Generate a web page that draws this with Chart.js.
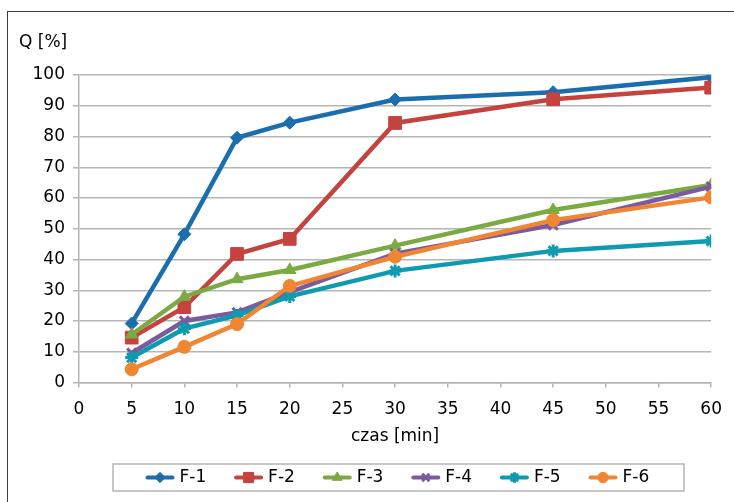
<!DOCTYPE html>
<html>
<head>
<meta charset="utf-8">
<script src="https://cdn.jsdelivr.net/npm/chart.js@4/dist/chart.umd.min.js"></script>
<style>
  html, body { margin: 0; padding: 0; background: #ffffff; }
  #wrap { width: 734px; height: 502px; position: relative; }
</style>
</head>
<body>
<div id="wrap"><canvas id="c" width="734" height="502"></canvas></div>
<script>
// Release time points [min]
const times = [5, 10, 15, 20, 30, 45, 60];

// Released amount Q [%] for each formulation
const seriesNames = ['F-1', 'F-2', 'F-3', 'F-4', 'F-5', 'F-6'];
const f1 = [19.2, 48.2, 79.6, 84.5, 92.0, 94.4, 99.3];
const f2 = [14.6, 24.5, 41.8, 46.7, 84.4, 92.1, 95.9];
const f3 = [15.6, 27.9, 33.6, 36.6, 44.5, 56.1, 64.2];
const f4 = [9.6, 20.0, 22.8, 29.4, 41.9, 51.2, 63.7];
const f5 = [8.1, 17.5, 21.8, 28.0, 36.3, 42.8, 46.0];
const f6 = [4.3, 11.6, 19.0, 31.4, 40.9, 52.8, 60.2];

// Axis ranges
const xTickStep = 5;
const xMax = 60;
const yTickStep = 10;
const yMax = 100;

const FONT = '"DejaVu Sans", sans-serif';
const GRID = '#b5b5b5';

const styles = [
  { color: '#1b6ead', point: 'rectRot',  radius: 6.5 },
  { color: '#c5433f', point: 'rect',     radius: 9 },
  { color: '#7baa43', point: 'triangle', radius: 7 },
  { color: '#7b5a9e', point: 'crossRot', radius: 6.5 },
  { color: '#0e9bb0', point: 'star',     radius: 6.5 },
  { color: '#f08532', point: 'circle',   radius: 6.5 }
];

const values = [f1, f2, f3, f4, f5, f6];

const datasets = values.map((vals, i) => ({
  label: seriesNames[i],
  data: times.map((t, k) => ({ x: t, y: vals[k] })),
  borderColor: styles[i].color,
  backgroundColor: styles[i].color,
  pointBackgroundColor: styles[i].color,
  pointBorderColor: styles[i].color,
  pointStyle: styles[i].point,
  pointRadius: styles[i].radius,
  pointHoverRadius: styles[i].radius,
  pointBorderWidth: (styles[i].point === 'crossRot' || styles[i].point === 'star') ? 3 : 1,
  borderWidth: 4.5,
  tension: 0,
  fill: false,
  order: values.length - i   // later series are drawn on top
}));

// Outer frame, y-axis caption and the boxed legend under the plot
const decorations = {
  id: 'decorations',
  afterDraw(chart) {
    const ctx = chart.ctx;
    ctx.save();
    // frame
    ctx.strokeStyle = '#3c3c3c';
    ctx.lineWidth = 1;
    ctx.strokeRect(7.5, 11.5, 760, 520);

    // y-axis caption
    ctx.fillStyle = '#000';
    ctx.font = '17px ' + FONT;
    ctx.textAlign = 'left';
    ctx.textBaseline = 'alphabetic';
    ctx.fillText('Q [%]', 19, 47);

    // legend box
    ctx.strokeStyle = GRID;
    ctx.lineWidth = 1.5;
    ctx.strokeRect(113, 464, 571, 27);

    const cy = 477.5;
    const startX = 147.5;
    const step = 88.6;
    chart.data.datasets.forEach((ds, i) => {
      const x0 = startX + i * step;
      ctx.strokeStyle = ds.borderColor;
      ctx.fillStyle = ds.borderColor;
      ctx.lineWidth = 4;
      ctx.lineCap = 'round';
      ctx.beginPath();
      ctx.moveTo(x0, cy);
      ctx.lineTo(x0 + 25, cy);
      ctx.stroke();
      ctx.lineCap = 'butt';
      const opts = {
        pointStyle: ds.pointStyle,
        radius: ds.pointRadius * 0.8,
        rotation: 0,
        borderWidth: ds.pointBorderWidth
      };
      ctx.lineWidth = ds.pointBorderWidth;
      if (Chart.helpers && Chart.helpers.drawPoint) {
        Chart.helpers.drawPoint(ctx, opts, x0 + 12.5, cy);
      }
      ctx.fillStyle = '#000';
      ctx.font = '17px ' + FONT;
      ctx.textAlign = 'left';
      ctx.textBaseline = 'middle';
      ctx.fillText(ds.label, x0 + 32, cy);
    });
    ctx.restore();
  }
};

new Chart(document.getElementById('c'), {
  type: 'line',
  data: { datasets },
  plugins: [decorations],
  options: {
    responsive: false,
    animation: false,
    events: [],
    layout: { padding: { left: 0, right: 22, top: 75, bottom: 49.5 } },
    plugins: {
      legend: { display: false },
      tooltip: { enabled: false },
      title: { display: false }
    },
    scales: {
      x: {
        type: 'linear',
        min: 0,
        max: xMax,
        ticks: {
          stepSize: xTickStep,
          color: '#000',
          font: { family: FONT, size: 17 },
          padding: 12,
          maxRotation: 0
        },
        grid: {
          drawOnChartArea: false,
          drawTicks: true,
          tickLength: 5,
          color: GRID,
          lineWidth: 1.5
        },
        border: { color: GRID, width: 1.5 },
        title: {
          display: true,
          text: 'czas [min]',
          color: '#000',
          font: { family: FONT, size: 17 },
          padding: { top: 0, bottom: 6 }
        },
        afterFit(scale) { scale.height = 70; }
      },
      y: {
        type: 'linear',
        min: 0,
        max: yMax,
        ticks: {
          stepSize: yTickStep,
          color: '#000',
          font: { family: FONT, size: 17 },
          padding: 8
        },
        grid: {
          drawTicks: true,
          tickLength: 6,
          color: GRID,
          lineWidth: 1.5
        },
        border: { color: GRID, width: 1.5 },
        afterFit(scale) { scale.width = 79; }
      }
    }
  }
});
</script>
</body>
</html>
